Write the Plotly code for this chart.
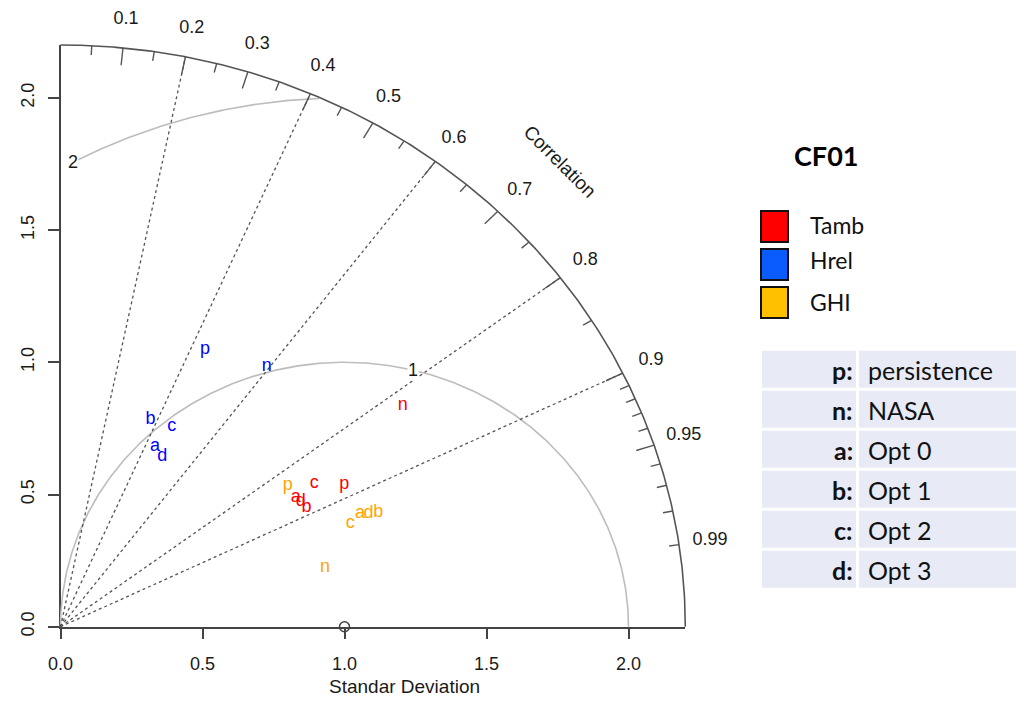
import numpy as np
import plotly.graph_objects as go

# page 1024x706; the html body adds an 8px margin, so the figure is 1008x690
OFF = 8
W, H = 1008, 690

# ---------------- data ----------------
series = ["Tamb", "Hrel", "GHI"]
letter_colors = ["#FF0000", "#0000FF", "#FFA500"]
legend_colors = ["#FF0000", "#0A5CFF", "#FFC000"]
model_keys = ["p", "n", "a", "b", "c", "d"]
model_names = ["persistence", "NASA", "Opt 0", "Opt 1", "Opt 2", "Opt 3"]

sd_tamb = [1.134, 1.466, 0.962, 0.977, 1.045, 0.969]
cor_tamb = [0.881, 0.822, 0.861, 0.887, 0.855, 0.873]
sd_hrel = [1.167, 1.222, 0.758, 0.844, 0.851, 0.736]
cor_hrel = [0.436, 0.594, 0.439, 0.376, 0.460, 0.487]
sd_ghi = [0.963, 0.958, 1.139, 1.199, 1.092, 1.166]
cor_ghi = [0.831, 0.972, 0.926, 0.933, 0.934, 0.930]

ref_sd = 1.0
max_sd = 2.2
sd_tickvals = [0.0, 0.5, 1.0, 1.5, 2.0]
sd_ticktext = ["0.0", "0.5", "1.0", "1.5", "2.0"]
corr_major = [0.1, 0.2, 0.3, 0.4, 0.5, 0.6, 0.7, 0.8, 0.9, 0.95]
corr_minor = [0.05, 0.15, 0.25, 0.35, 0.45, 0.55, 0.65, 0.75, 0.85,
              0.91, 0.92, 0.93, 0.94, 0.96, 0.97, 0.98, 0.99]
corr_labels = [0.1, 0.2, 0.3, 0.4, 0.5, 0.6, 0.7, 0.8, 0.9, 0.95, 0.99]
radial_cors = [0.2, 0.4, 0.6, 0.8, 0.9]
rms_levels = [1, 2]
rms_label_angle = [1.326, 2.07]

# ---------------- pixel geometry (screen pixels) ----------------
X0PX, XS = 60.5, 284.0     # x=0 pixel, pixels per unit
Y0PX, YS = 626.7, 264.4    # y=0 pixel, pixels per unit

def px(xp):
    return (xp - OFF) / W

def py(yp):
    return 1 - (yp - OFF) / H

CHART_FONT = "Liberation Sans, Arial, sans-serif"
SIDE_FONT = "Lato, Noto Sans, sans-serif"
TXT = "#1a1a1a"

fig = go.Figure()

def frame_line(xs, ys, color, width, dash="solid"):
    fig.add_trace(go.Scatter(x=xs, y=ys, mode="lines", xaxis="x2", yaxis="y2",
                             line=dict(color=color, width=width, dash=dash),
                             hoverinfo="skip", showlegend=False))

# RMS arcs around the reference point
for g, la in zip(rms_levels, rms_label_angle):
    th = np.linspace(0, np.pi, 600)
    xc = ref_sd + g * np.cos(th)
    yc = g * np.sin(th)
    keep = (xc >= 0) & (xc**2 + yc**2 <= max_sd**2 + 1e-9)
    if g == 2:
        keep &= th <= la + 1e-9
    frame_line(xc[keep], yc[keep], "#BDBDBD", 1.6)

# dotted radial lines
xs, ys = [], []
for c in radial_cors:
    a = np.arccos(c)
    xs += [0, max_sd * np.cos(a), None]
    ys += [0, max_sd * np.sin(a), None]
frame_line(xs, ys, "#555555", 1.3, "dot")

# outer arc
th = np.linspace(0, np.pi / 2, 300)
frame_line(max_sd * np.cos(th), max_sd * np.sin(th), "#555555", 1.6)

# ticks on the outer arc
for vals, f in ((corr_major, 0.97), (corr_minor, 0.984)):
    xs, ys = [], []
    for c in vals:
        a = np.arccos(c)
        xs += [max_sd * np.cos(a), f * max_sd * np.cos(a), None]
        ys += [max_sd * np.sin(a), f * max_sd * np.sin(a), None]
    frame_line(xs, ys, "#555555", 1.4)

# correlation labels
lab_a = np.arccos(np.array(corr_labels))
fig.add_trace(go.Scatter(
    x=1.05 * max_sd * np.cos(lab_a), y=1.05 * max_sd * np.sin(lab_a),
    mode="text", text=[f"{c:g}" for c in corr_labels], xaxis="x2", yaxis="y2",
    textfont=dict(family=CHART_FONT, size=18, color=TXT),
    textposition="middle center", hoverinfo="skip", showlegend=False, cliponaxis=False))

# reference point
fig.add_trace(go.Scatter(x=[ref_sd], y=[0], mode="markers", xaxis="x2", yaxis="y2",
                         marker=dict(symbol="circle-open", size=10, color="#444444",
                                     line=dict(width=1.5, color="#444444")),
                         hoverinfo="skip", showlegend=False))

# model letters (data)
for name, sds, cors, col in zip(series, [sd_tamb, sd_hrel, sd_ghi],
                                [cor_tamb, cor_hrel, cor_ghi], letter_colors):
    sds = np.array(sds); cors = np.array(cors)
    fig.add_trace(go.Scatter(
        x=sds * cors, y=sds * np.sqrt(1 - cors**2), mode="text", text=model_keys,
        name=name, xaxis="x2", yaxis="y2",
        textfont=dict(family=CHART_FONT, size=18, color=col),
        textposition="middle center", showlegend=False, cliponaxis=False))

# invisible trace on the main axes so they are drawn
fig.add_trace(go.Scatter(x=[0], y=[0], mode="markers", marker=dict(opacity=0),
                         hoverinfo="skip", showlegend=False))

annotations = []

def note(**kw):
    kw.setdefault("xanchor", "center")
    kw.setdefault("yanchor", "middle")
    kw.setdefault("showarrow", False)
    annotations.append(kw)

for g, la in zip(rms_levels, rms_label_angle):
    note(x=ref_sd + g * np.cos(la), y=g * np.sin(la), xref="x2", yref="y2",
         text=str(g), bgcolor="white", borderpad=0,
         font=dict(family=CHART_FONT, size=18, color=TXT))
ca = np.pi / 4
note(x=1.13 * max_sd * np.cos(ca), y=1.13 * max_sd * np.sin(ca),
     xref="x2", yref="y2", text="Correlation", textangle=45,
     font=dict(family=CHART_FONT, size=19, color=TXT))
note(x=px(404), y=py(686.5), xref="paper", yref="paper", text="Standar Deviation",
     font=dict(family=CHART_FONT, size=19, color=TXT))
note(x=px(826), y=py(155), xref="paper", yref="paper", text="<b>CF01</b>",
     font=dict(family=SIDE_FONT, size=27, color="#000000"))

shapes = []
leg_tops = [211, 249, 287]
leg_text_y = [225, 260, 302]
for s, col, t, ty in zip(series, legend_colors, leg_tops, leg_text_y):
    shapes.append(dict(type="rect", xref="paper", yref="paper",
                       x0=px(761), x1=px(788), y0=py(t), y1=py(t + 31),
                       fillcolor=col, line=dict(color="#111111", width=2)))
    note(x=px(808), y=py(ty), xref="paper", yref="paper", xanchor="left", text=s,
         font=dict(family=SIDE_FONT, size=23, color="#111111"))

for i, (k, nm) in enumerate(zip(model_keys, model_names)):
    top = 350.7 + 40 * i
    for x0, x1 in ((762, 856), (859, 1020)):
        shapes.append(dict(type="rect", xref="paper", yref="paper", layer="below",
                           x0=px(x0), x1=px(x1), y0=py(top), y1=py(top + 37),
                           fillcolor="#E8EBF5", line=dict(width=0)))
    cy = top + 19
    note(x=px(855), y=py(cy), xref="paper", yref="paper", xanchor="right",
         text=f"<b>{k}:</b>", font=dict(family=SIDE_FONT, size=25, color="#111111"))
    note(x=px(866), y=py(cy), xref="paper", yref="paper", xanchor="left",
         text=nm, font=dict(family=SIDE_FONT, size=25, color="#111111"))

axis_common = dict(showgrid=False, zeroline=False, showline=True, linecolor="#444444",
                   linewidth=1.5, ticks="outside", ticklen=11, tickwidth=1.5,
                   tickcolor="#444444", tickfont=dict(family=CHART_FONT, size=18, color=TXT),
                   fixedrange=True, automargin=False)

fig.update_layout(
    width=W, height=H, margin=dict(l=0, r=0, t=0, b=0, pad=0, autoexpand=False),
    paper_bgcolor="white", plot_bgcolor="rgba(0,0,0,0)",
    showlegend=False,
    xaxis=dict(range=[0, max_sd], domain=[px(X0PX), px(X0PX + max_sd * XS)],
               tickvals=sd_tickvals, ticktext=sd_ticktext, anchor="y",
               ticklabelstandoff=9, **axis_common),
    yaxis=dict(range=[0, max_sd], domain=[py(Y0PX), py(Y0PX - max_sd * YS)],
               tickvals=sd_tickvals, ticktext=sd_ticktext, tickangle=-90, anchor="x",
               ticklabelstandoff=7, **axis_common),
    xaxis2=dict(range=[(OFF - X0PX) / XS, (OFF + W - X0PX) / XS], domain=[0, 1], anchor="y2",
                visible=False, fixedrange=True, automargin=False),
    yaxis2=dict(range=[(Y0PX - OFF - H) / YS, (Y0PX - OFF) / YS], domain=[0, 1], anchor="x2",
                visible=False, fixedrange=True, automargin=False),
    annotations=annotations, shapes=shapes,
)

fig.write_html("out.html")
